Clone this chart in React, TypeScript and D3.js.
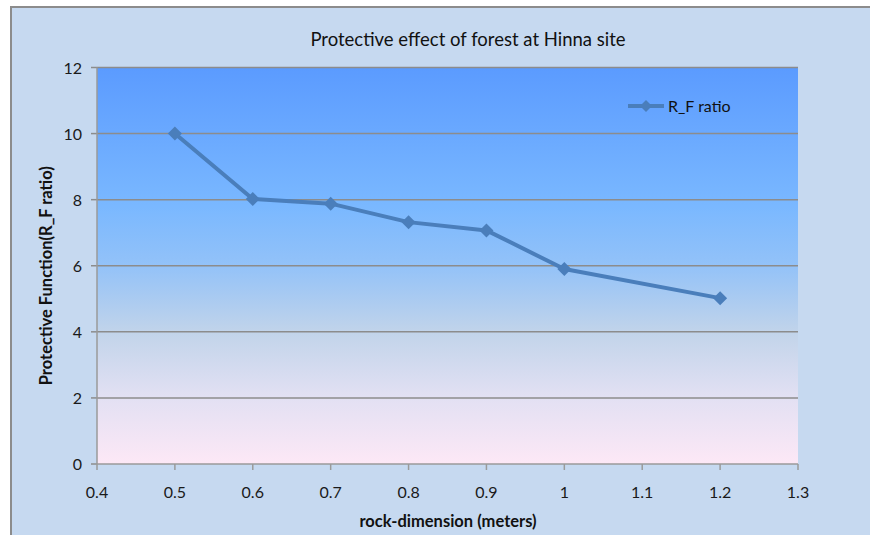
import React from "react";
import * as d3 from "d3";

const xValues = [0.5, 0.6, 0.7, 0.8, 0.9, 1.0, 1.2];
const yValues = [10, 8.02, 7.88, 7.32, 7.07, 5.9, 5.02];
const seriesName = "R_F ratio";
const xTicks = [0.4, 0.5, 0.6, 0.7, 0.8, 0.9, 1, 1.1, 1.2, 1.3];
const yTicks = [0, 2, 4, 6, 8, 10, 12];
const title = "Protective effect of forest at Hinna site";
const xLabel = "rock-dimension (meters)";
const yLabel = "Protective Function(R_F ratio)";

const W = 870, H = 535;
const plot = { left: 97, right: 798, top: 67.5, bottom: 464 };
const FONT = "Lato, 'Open Sans', sans-serif";

export default function App() {
  const x = d3.scaleLinear().domain([0.4, 1.3]).range([plot.left, plot.right]);
  const y = d3.scaleLinear().domain([0, 12]).range([plot.bottom, plot.top]);
  const line = d3.line<number>().x((_, i) => x(xValues[i])).y((d) => y(d));
  const diamond = (cx: number, cy: number, r: number) =>
    `M${cx},${cy - r}L${cx + r},${cy}L${cx},${cy + r}L${cx - r},${cy}Z`;
  const color = "#4a7ebb";
  return (
    <svg width={W} height={H} style={{ position: "absolute", left: 0, top: 0 }}>
      <defs>
        <linearGradient id="bg" x1="0" y1="0" x2="0" y2="1">
          <stop offset="0" stopColor="#5b9bff" />
          <stop offset="0.35" stopColor="#7ab8ff" />
          <stop offset="0.5" stopColor="#93c2f8" />
          <stop offset="0.67" stopColor="#c2d4ea" />
          <stop offset="0.83" stopColor="#e2e0f3" />
          <stop offset="1" stopColor="#fde8f6" />
        </linearGradient>
      </defs>
      <rect x={0} y={0} width={W} height={H} fill="#ffffff" />
      <rect x={11} y={7} width={W} height={H} fill="#c6d9f0" stroke="#8c8c8c" strokeWidth={2} />
      <text x={468} y={46} textAnchor="middle" fontFamily={FONT} fontSize={18.5} fill="#111">{title}</text>
      <rect x={plot.left} y={plot.top} width={plot.right - plot.left} height={plot.bottom - plot.top} fill="url(#bg)" />
      {yTicks.map((t) => (
        <g key={"y" + t}>
          {t > 0 && (
            <line x1={plot.left} x2={plot.right} y1={y(t)} y2={y(t)} stroke="#8c8c8c" strokeWidth={1.5} />
          )}
          <line x1={plot.left - 6} x2={plot.left} y1={y(t)} y2={y(t)} stroke="#8c8c8c" strokeWidth={1.5} />
          <text x={82} y={y(t) + 6} textAnchor="end" fontFamily={FONT} fontSize={16} fill="#1a1a1a">{t}</text>
        </g>
      ))}
      <line x1={plot.left} x2={plot.left} y1={plot.top} y2={plot.bottom} stroke="#9a9a9a" strokeWidth={1.5} />
      <line x1={plot.left} x2={plot.right} y1={plot.bottom} y2={plot.bottom} stroke="#9a9a9a" strokeWidth={1.5} />
      {xTicks.map((t) => (
        <g key={"x" + t}>
          <line x1={x(t)} x2={x(t)} y1={plot.bottom} y2={plot.bottom + 6} stroke="#9a9a9a" strokeWidth={1.5} />
          <text x={x(t)} y={plot.bottom + 34} textAnchor="middle" fontFamily={FONT} fontSize={16} fill="#1a1a1a">{t}</text>
        </g>
      ))}
      <text x={448} y={527} textAnchor="middle" fontFamily={FONT} fontSize={16.5} fontWeight="bold" fill="#111">{xLabel}</text>
      <text transform={`translate(52,${(plot.top + plot.bottom) / 2 + 10}) rotate(-90)`} textAnchor="middle" fontFamily={FONT} fontSize={16.5} fontWeight="bold" fill="#111">{yLabel}</text>
      <path d={line(yValues) || ""} fill="none" stroke={color} strokeWidth={4} strokeLinejoin="round" />
      {yValues.map((v, i) => (
        <path key={"m" + i} d={diamond(x(xValues[i]), y(v), 7)} fill={color} />
      ))}
      <line x1={628} x2={664} y1={106} y2={106} stroke={color} strokeWidth={4} />
      <path d={diamond(646, 106, 6)} fill={color} />
      <text x={668} y={112} fontFamily={FONT} fontSize={16} fill="#111">{seriesName}</text>
    </svg>
  );
}
